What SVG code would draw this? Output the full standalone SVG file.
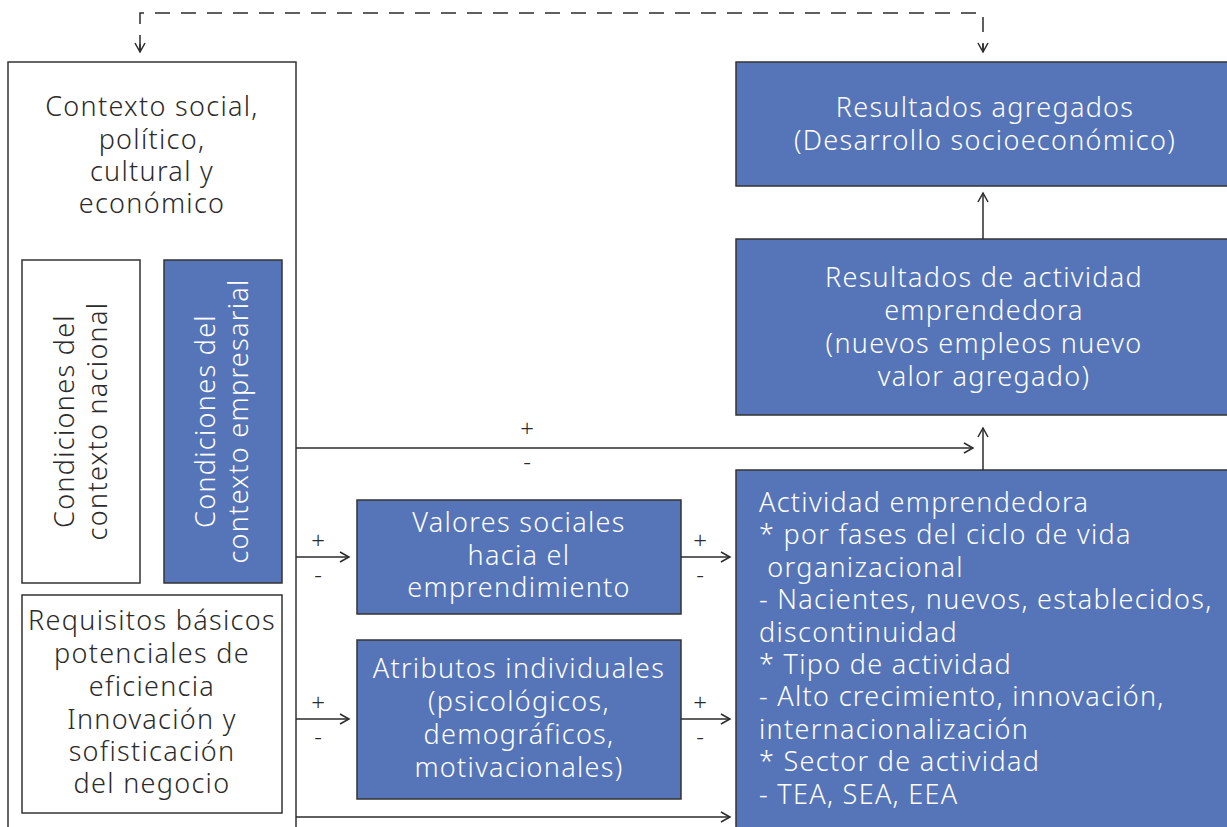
<svg xmlns="http://www.w3.org/2000/svg" width="1227" height="827" viewBox="0 0 1227 827">
<defs>
<style>
.t{font-family:"Noto Sans","Open Sans","DejaVu Sans",sans-serif;font-size:27px;font-weight:300;letter-spacing:1.3px;fill:#2b2b2b}
.w{fill:#ffffff}
.c{text-anchor:middle}
.s{font-size:24px;letter-spacing:0}
.box{fill:#ffffff;stroke:#333;stroke-width:1.5}
.blue{fill:#5675b8;stroke:#333;stroke-width:1.5}
.ln{fill:none;stroke:#2b2b2b;stroke-width:1.5}
.dash{fill:none;stroke:#2b2b2b;stroke-width:1.5;stroke-dasharray:15 11}
</style>
<marker id="ah" markerWidth="12" markerHeight="12" refX="10" refY="6" orient="auto" markerUnits="userSpaceOnUse">
<path d="M1,1 L10,6 L1,11" fill="none" stroke="#2b2b2b" stroke-width="1.5"/>
</marker>
</defs>
<rect width="1227" height="827" fill="#ffffff"/>

<g id="contexto">
<rect class="box" x="8" y="62" width="288" height="790"/>
<text class="t c" x="152" y="116">Contexto social,</text>
<text class="t c" x="152" y="149">político,</text>
<text class="t c" x="152" y="181">cultural y</text>
<text class="t c" x="152" y="213">económico</text>
</g>

<g id="nacional">
<rect class="box" x="22" y="260" width="118" height="323"/>
<g transform="translate(74,421) rotate(-90)">
<text class="t c" x="0" y="0">Condiciones del</text>
<text class="t c" x="0" y="33">contexto nacional</text>
</g>
</g>

<g id="empresarial">
<rect class="blue" x="164" y="260" width="118" height="323"/>
<g transform="translate(215,421) rotate(-90)">
<text class="t w c" x="0" y="0">Condiciones del</text>
<text class="t w c" x="0" y="33">contexto empresarial</text>
</g>
</g>

<g id="requisitos">
<rect class="box" x="22" y="595" width="260" height="218"/>
<text class="t c" x="152" y="630">Requisitos básicos</text>
<text class="t c" x="152" y="663">potenciales de</text>
<text class="t c" x="152" y="696">eficiencia</text>
<text class="t c" x="152" y="729">Innovación y</text>
<text class="t c" x="152" y="761">sofisticación</text>
<text class="t c" x="152" y="793">del negocio</text>
</g>

<g id="valores">
<rect class="blue" x="357" y="500" width="324" height="114"/>
<text class="t w c" x="519" y="532">Valores sociales</text>
<text class="t w c" x="519" y="565">hacia el</text>
<text class="t w c" x="519" y="597">emprendimiento</text>
</g>

<g id="atributos">
<rect class="blue" x="357" y="640" width="324" height="159"/>
<text class="t w c" x="519" y="678">Atributos individuales</text>
<text class="t w c" x="519" y="711">(psicológicos,</text>
<text class="t w c" x="519" y="744">demográficos,</text>
<text class="t w c" x="519" y="777">motivacionales)</text>
</g>

<g id="agregados">
<rect class="blue" x="736" y="62" width="500" height="124"/>
<text class="t w c" x="985" y="117">Resultados agregados</text>
<text class="t w c" x="985" y="150">(Desarrollo socioeconómico)</text>
</g>

<g id="resultados">
<rect class="blue" x="736" y="239" width="500" height="176"/>
<text class="t w c" x="984" y="287">Resultados de actividad</text>
<text class="t w c" x="984" y="320">emprendedora</text>
<text class="t w c" x="984" y="353">(nuevos empleos nuevo</text>
<text class="t w c" x="984" y="386">valor agregado)</text>
</g>

<g id="actividad">
<rect class="blue" x="736" y="470" width="500" height="380"/>
<text class="t w" x="759" y="512">Actividad emprendedora</text>
<text class="t w" x="759" y="544">* por fases del ciclo de vida</text>
<text class="t w" x="759" y="577" xml:space="preserve"> organizacional</text>
<text class="t w" x="759" y="609">- Nacientes, nuevos, establecidos,</text>
<text class="t w" x="759" y="642">discontinuidad</text>
<text class="t w" x="759" y="674">* Tipo de actividad</text>
<text class="t w" x="759" y="706">- Alto crecimiento, innovación,</text>
<text class="t w" x="759" y="739">internacionalización</text>
<text class="t w" x="759" y="771">* Sector de actividad</text>
<text class="t w" x="759" y="804">- TEA, SEA, EEA</text>
</g>

<g id="connectors">
<polyline class="dash" points="140,50 140,13 983,13 983,50"/>
<line class="ln" x1="140" y1="44" x2="140" y2="52" marker-end="url(#ah)"/>
<line class="ln" x1="983" y1="44" x2="983" y2="52" marker-end="url(#ah)"/>
<line class="ln" x1="983" y1="239" x2="983" y2="193" marker-end="url(#ah)"/>
<line class="ln" x1="983" y1="470" x2="983" y2="428" marker-end="url(#ah)"/>
<line class="ln" x1="296" y1="448" x2="973" y2="448" marker-end="url(#ah)"/>
<line class="ln" x1="296" y1="557" x2="349" y2="557" marker-end="url(#ah)"/>
<line class="ln" x1="681" y1="557" x2="730" y2="557" marker-end="url(#ah)"/>
<line class="ln" x1="296" y1="719" x2="349" y2="719" marker-end="url(#ah)"/>
<line class="ln" x1="681" y1="719" x2="730" y2="719" marker-end="url(#ah)"/>
<line class="ln" x1="296" y1="817" x2="730" y2="817" marker-end="url(#ah)"/>
<text class="t s c" x="527" y="437">+</text>
<text class="t s c" x="527" y="470">-</text>
<text class="t s c" x="318" y="549">+</text>
<text class="t s c" x="318" y="583">-</text>
<text class="t s c" x="700" y="549">+</text>
<text class="t s c" x="700" y="583">-</text>
<text class="t s c" x="318" y="711">+</text>
<text class="t s c" x="318" y="745">-</text>
<text class="t s c" x="700" y="711">+</text>
<text class="t s c" x="700" y="745">-</text>
</g>
</svg>
